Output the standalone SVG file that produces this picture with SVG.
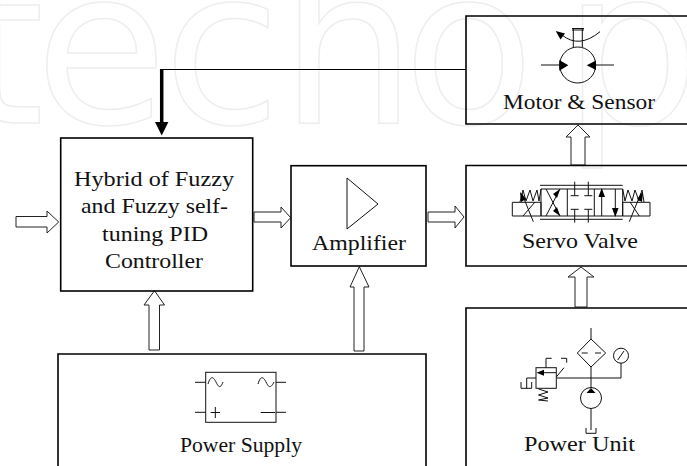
<svg xmlns="http://www.w3.org/2000/svg" width="687" height="466" viewBox="0 0 687 466">
<style>
.wm{font-family:"DejaVu Sans",sans-serif;font-size:215px;fill:none;stroke:#eeeeee;stroke-width:1.5}
.box{fill:none;stroke:#000;stroke-width:1.6}
.lbl{font-family:"Liberation Serif",serif;font-size:22px;fill:#111;text-anchor:start}
.hollow{fill:#fff;stroke:#222;stroke-width:1}
.sym{fill:none;stroke:#111;stroke-width:1}
.solid{fill:#000;stroke:none}
</style>
<rect width="687" height="466" fill="#fff"/>
<g id="watermark"><text class="wm" x="-40" y="122.500">t</text><text class="wm" x="35" y="122.500">e</text><text class="wm" x="163" y="122.500">c</text><text class="wm" x="280" y="122.500">h</text><text class="wm" x="403" y="122.500">o</text><text class="wm" x="563" y="122.500">p</text></g>
<g id="connectors">
<path d="M466 69.500H161" fill="none" stroke="#000" stroke-width="1.200"/>
<path d="M161.700 69V124" fill="none" stroke="#000" stroke-width="3.500"/>
<path class="solid" d="M155 122H168.400L161.700 135.500Z"/>
<path class="hollow" d="M16 216.500H47V211L58.700 222L47 233V227H16Z"/>
<path class="hollow" d="M254 212H281V207L290.700 217.700L281 228V222H254Z"/>
<path class="hollow" d="M428 212H455V206L464 217L455 228V222H428Z"/>
<path class="hollow" d="M149 350V305H144L154.500 290.700L164.500 305H159.500V350Z"/>
<path class="hollow" d="M354 351V287H350L359.300 266.700L369 287H364V351Z"/>
<path class="hollow" d="M571 165V137H566L578 125L590 137H585V165Z"/>
<path class="hollow" d="M575 307V277H568L581 267L594 277H587V307Z"/>
</g>
<g id="controller"><rect class="box" x="60.700" y="138" width="192" height="153"/>
<text class="lbl" x="74" y="186" textLength="160" lengthAdjust="spacingAndGlyphs">Hybrid of Fuzzy</text><text class="lbl" x="81" y="213" textLength="147" lengthAdjust="spacingAndGlyphs">and Fuzzy self-</text><text class="lbl" x="102" y="241" textLength="106" lengthAdjust="spacingAndGlyphs">tuning PID</text><text class="lbl" x="105" y="268" textLength="98" lengthAdjust="spacingAndGlyphs">Controller</text></g>
<g id="amplifier"><rect class="box" x="291" y="165.700" width="135" height="100.300"/>
<path class="sym" d="M347 178V229L378 204Z"/>
<text class="lbl" x="312" y="250" textLength="94" lengthAdjust="spacingAndGlyphs">Amplifier</text></g>
<g id="power-supply"><path class="box" d="M58 466V354H426V466"/>
<rect class="sym" x="205.700" y="372.300" width="70.300" height="50"/>
<path class="sym" d="M195 382.300H205.700M195 412.300H205.700M276 382.300H286M276 412.300H286M208 384C211 374 214 378 216 382S220 390 223 382M258 384C261 374 264 378 266 382S270 390 274 382M210.700 412.500H220M215.300 407V418M260.700 412.500H275"/>
<text class="lbl" x="180" y="452" textLength="122" lengthAdjust="spacingAndGlyphs">Power Supply</text></g>
<g id="servo-valve"><path class="box" d="M687 165.500H466V266H687"/>
<path class="sym" d="M540 185.300H622.700M540 219.300H622.700"/>
<path class="sym" d="M541 189H622.700V216H541ZM567.300 189V216M594.300 189V216M512.300 202.300H541V216H512.300ZM622.700 202.300H650V216H622.700Z"/>
<path class="sym" d="M546 189L560 216M560 189L546 216M521.700 193L533.300 221.700M535 202L523 216M641 193L629.300 221.700M630 202L639.300 216M574.700 181.700V195.700M588.300 181.700V195.700M574.700 209.300V222.700M588.300 209.300V222.700M570.700 195.700H578.700M584.300 195.700H592.300M570.700 209.300H578.700M584.300 209.300H592.300M601.700 189V216M615.300 216V189"/>
<path class="sym" d="M520 202L523 190L526 201L530 190L533 201L537 190L539 201L541 189M622.700 189L625 201L628 190L632 201L635 190L639 201L642 190L644 202"/>
<path class="solid" d="M601.700 188L605 197H598.400ZM615.300 217L618.600 208H612ZM560 189L553 194L557 198ZM560 216L553 211L557 207ZM520 192L526 199L521 202ZM643 192L637 199L642 202Z"/>
<text class="lbl" x="522" y="248" textLength="116" lengthAdjust="spacingAndGlyphs">Servo Valve</text></g>
<g id="motor-sensor"><path class="box" d="M687 16H466V124H687"/>
<circle class="sym" cx="577.700" cy="65" r="18"/>
<path class="sym" d="M573.300 47V29M582.300 47V29M572 28.500H584M572 30H584M541 65H559.300M596 65H614M562 35Q579 49 600 31.700"/>
<path class="solid" d="M568.300 65.300L559.300 60V70.700ZM586.700 65.300L596 60.500V70ZM555.700 31L565 33.500L560.500 39.500Z"/>
<text class="lbl" x="503" y="109" textLength="152" lengthAdjust="spacingAndGlyphs">Motor &amp; Sensor</text></g>
<g id="power-unit"><path class="box" d="M687 308H466V466"/>
<circle class="sym" cx="591" cy="398" r="10.500"/>
<path class="sym" d="M591 328V339M591 339L605.700 353L591 367L577.300 353ZM581.700 353H587.700M595 353H601M591 367V388M591 408.500V430M586 428V433.300H596V428M621 363V378H556.700"/>
<circle class="sym" cx="621" cy="355.700" r="7.500"/>
<path class="sym" d="M617.700 360L624 351"/>
<rect class="sym" x="536" y="367.700" width="20.300" height="20.600"/>
<path class="sym" d="M540 372.700H556M536 378H526.700V388.300M521 382V388.300H531.700V382M546 367.700V358.300H551.700M561 358.300H566.700V362.700M556.300 377L564 367.700M538.500 389L548 392L538.500 395L548 398L538.500 400L548 401"/>
<path class="solid" d="M536.500 372.700L544 369.700V375.700ZM591 388L586.500 393H595.500Z"/>
<text class="lbl" x="524" y="451" textLength="111" lengthAdjust="spacingAndGlyphs">Power Unit</text></g>
</svg>
